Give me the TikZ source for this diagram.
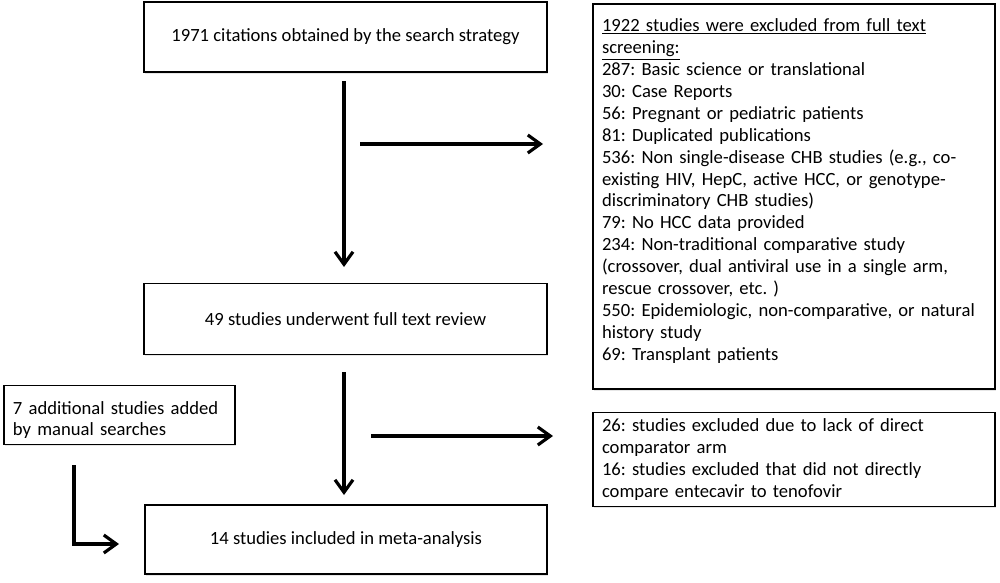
\documentclass[tikz,border=0pt]{standalone}
\usepackage{fontspec}
\setmainfont{Carlito}
\frenchspacing
\usetikzlibrary{arrows.meta,shadows}

\tikzset{
	flowbox/.style={draw, line width=0.7pt, fill=white,
		drop shadow={opacity=0.2, shadow xshift=0.4pt, shadow yshift=-0.9pt},
		font=\fontsize{10.6}{12.5}\selectfont, align=center, inner xsep=0.18cm},
	listbox/.style={flowbox, align=left},
	flowarrow/.style={-{Straight Barb[length=2.5mm,width=3.6mm]}, line width=1.8pt}
}

\begin{document}
\begin{tikzpicture}
	\useasboundingbox (0,0) rectangle (20,-11.66);

	% main column
	\node[flowbox, minimum width=8.06cm, minimum height=1.40cm] (cit) at (6.91,-0.74) {1971 citations obtained by the search strategy};
	\node[flowbox, minimum width=8.06cm, minimum height=1.42cm] (rev) at (6.91,-6.38) {49 studies underwent full text review};
	\node[flowbox, minimum width=8.04cm, minimum height=1.38cm] (inc) at (6.92,-10.79) {14 studies included in meta-analysis};

	% side boxes
	\node[listbox, text width=4.26cm, minimum height=0.88cm, text height=0.46cm] (add) at (2.39,-8.30) {7 additional studies added\\by manual searches};
	\node[listbox, text width=7.68cm, minimum height=7.70cm, text height=0.04cm] (excA) at (15.88,-3.93)
		{\underline{1922 studies were excluded from full text}\\
		\underline{screening:}\\
		287: Basic science or translational\\
		30: Case Reports\\
		56: Pregnant or pediatric patients\\
		81: Duplicated publications\\
		536: Non single-disease CHB studies (e.g., co-\\
		existing HIV, HepC, active HCC, or genotype-\\
		discriminatory CHB studies)\\
		79: No HCC data provided\\
		234: Non-traditional comparative study\\
		(crossover, dual antiviral use in a single arm,\\
		rescue crossover, etc. )\\
		550: Epidemiologic, non-comparative, or natural\\
		history study\\
		69: Transplant patients};
	\node[listbox, text width=7.68cm, minimum height=1.82cm] (excB) at (15.88,-9.19)
		{26: studies excluded due to lack of direct\\
		comparator arm\\
		16: studies excluded that did not directly\\
		compare entecavir to tenofovir};

	% arrow ends
	\coordinate (d1s) at (6.88,-1.62);
	\coordinate (d1e) at (6.88,-5.34);
	\coordinate (r1s) at (7.20,-2.88);
	\coordinate (r1e) at (10.86,-2.88);
	\coordinate (d2s) at (6.88,-7.44);
	\coordinate (d2e) at (6.88,-9.90);
	\coordinate (r2s) at (7.42,-8.72);
	\coordinate (r2e) at (11.06,-8.72);
	\coordinate (ls) at (1.48,-9.30);
	\coordinate (le) at (2.38,-10.88);

	\draw[flowarrow] (d1s) -- (d1e);
	\draw[flowarrow] (r1s) -- (r1e);
	\draw[flowarrow] (d2s) -- (d2e);
	\draw[flowarrow] (r2s) -- (r2e);
	\draw[flowarrow] (ls) |- (le);
\end{tikzpicture}
\end{document}
